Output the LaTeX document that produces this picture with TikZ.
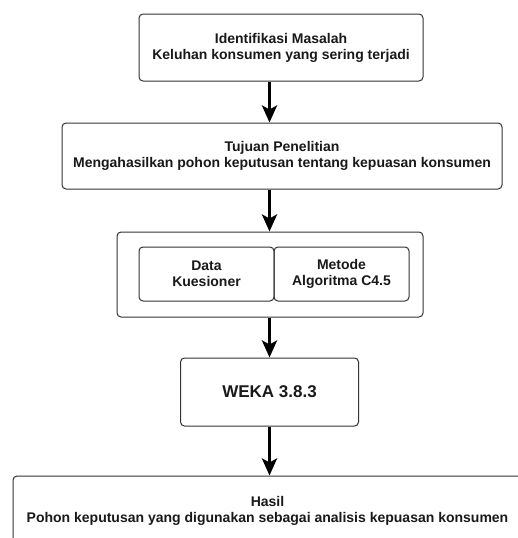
\documentclass[tikz,border=0pt]{standalone}
\usepackage{fontspec}
\setmainfont{Liberation Sans}
\usetikzlibrary{arrows.meta}
\tikzset{
  box/.style={draw=black!80, line width=1pt, rounded corners=4pt, align=center,
    font=\bfseries\fontsize{14}{16}\selectfont, inner sep=0pt, text=black!90},
  arr/.style={line width=3.5pt, draw=black, -{Stealth[length=17pt,width=15pt,inset=4pt]}}
}
\begin{document}
\begin{tikzpicture}[x=1pt,y=-1pt]
\useasboundingbox (0,0) rectangle (518,538);
\clip (0,0) rectangle (518,538);
\fill[white] (0,0) rectangle (518,538);
\node[box, minimum width=284pt, minimum height=67pt] (b1) at (281,47.5)
  {Identifikasi Masalah\\Keluhan konsumen yang sering terjadi};
\node[box, minimum width=440pt, minimum height=66pt] (b2) at (282,156)
  {Tujuan Penelitian\\Mengahasilkan pohon keputusan tentang kepuasan konsumen};
\node[box, minimum width=306pt, minimum height=85pt] (b3) at (270,274.5) {};
\node[box, minimum width=135pt, minimum height=54pt] (d) at (206.5,274)
  {Data\\Kuesioner};
\node[box, minimum width=135pt, minimum height=54pt] (m) at (341.5,274)
  {Metode\\Algoritma C4.5};
\node[box, minimum width=178pt, minimum height=68pt, font=\bfseries\fontsize{17}{20}\selectfont] (b4) at (269.5,392)
  {WEKA 3.8.3};
\node[box, minimum width=509pt, minimum height=70pt] (b5) at (267.5,511)
  {Hasil\\Pohon keputusan yang digunakan sebagai analisis kepuasan konsumen};
\draw[arr] (b1.south -| b4.center) -- (b2.north -| b4.center);
\draw[arr] (b2.south -| b4.center) -- (b3.north -| b4.center);
\draw[arr] (b3.south -| b4.center) -- (b4.north);
\draw[arr] (b4.south) -- (b5.north -| b4.center);
\end{tikzpicture}
\end{document}
